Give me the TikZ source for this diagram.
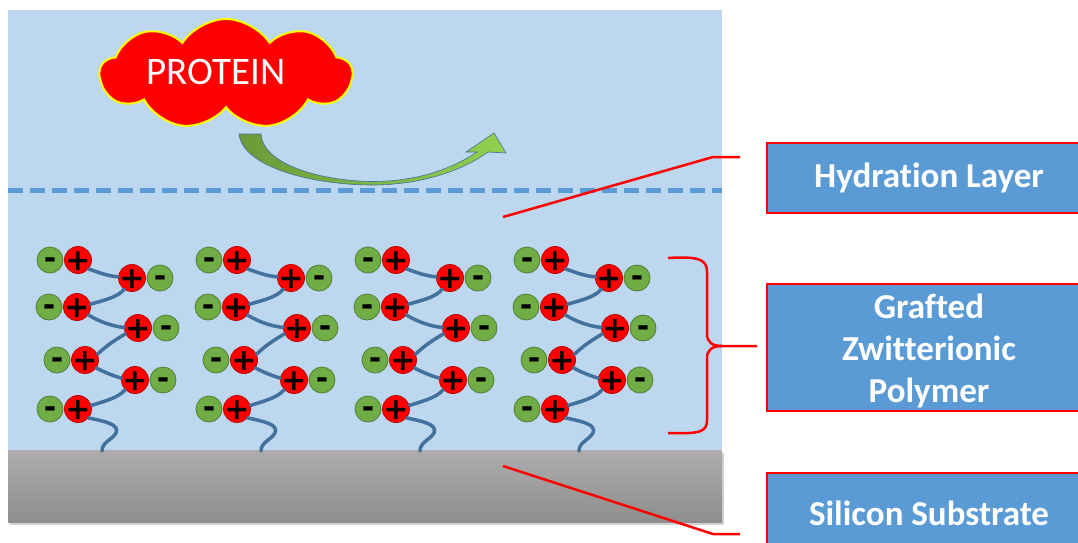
\documentclass[tikz,border=0pt]{standalone}
\usepackage{fontspec}
\setmainfont{Carlito}[Ligatures=NoCommon, Contextuals=NoAlternate]
\newfontfamily\signfont{DejaVu Sans}
\usetikzlibrary{shapes.symbols}

\definecolor{water}{HTML}{BDD7EE}
\definecolor{boxblue}{HTML}{5B9BD5}
\definecolor{chainblue}{HTML}{41719C}
\definecolor{ionred}{HTML}{FF0000}
\definecolor{ionredline}{HTML}{C00000}
\definecolor{iongreen}{HTML}{70AD47}
\definecolor{iongreenline}{HTML}{507E32}
\definecolor{cloudline}{HTML}{FFFF00}
\definecolor{arrowdark}{HTML}{6A9A38}
\definecolor{arrowlight}{HTML}{92D050}
\definecolor{siliconlight}{HTML}{ADADAD}
\definecolor{silicondark}{HTML}{8E8E8E}

\begin{document}
\begin{tikzpicture}[x=1pt, y=-1pt,
  ion/.style={circle, inner sep=0pt, minimum size=27pt, line width=0.8pt,
    font=\signfont\bfseries\fontsize{30}{30}\selectfont},
  cation/.style={ion, fill=ionred, draw=ionredline},
  anion/.style={ion, fill=iongreen, draw=iongreenline, minimum size=26pt},
  chain/.style={draw=chainblue, line width=3.5pt, line cap=round},
  leader/.style={draw=ionred, line width=2.5pt},
  labeltext/.style={text=white, font=\bfseries\fontsize{35}{42}\selectfont,
    align=center, inner sep=0pt},
  labelbox/.style={labeltext, draw=ionred, line width=2.5pt, fill=boxblue,
    minimum width=324pt}]
\newcommand{\plussign}{\raisebox{-0.358em}[0pt][0pt]{+}}
\newcommand{\minussign}{\raisebox{-0.29em}[0pt][0pt]{-}}

\clip (0,0) rectangle (1078,542);
\fill[white] (0,0) rectangle (1078,542);

% water above the surface
\fill[water] (8,10) rectangle (722,452);

% silicon substrate with a soft shadow
\fill[black, opacity=0.18] (10,453) rectangle (724,525);
\shade[top color=siliconlight, bottom color=silicondark] (8,450) rectangle (722,522);

% edge of the hydration layer
\draw[boxblue, line width=5pt, dash pattern=on 15pt off 7pt] (8,190) -- (722,190);

% protein cloud
\node[cloud, cloud puffs=9, cloud puff arc=115, aspect=2.2, draw=cloudline,
  line width=2pt, fill=ionred, minimum width=252pt, minimum height=110pt,
  inner sep=0pt] (protein) at (226,74) {};
\node[text=white, font=\fontsize{39}{39}\selectfont] (proteintext) at (216,72) {PROTEIN};

% curved arrow: the protein is repelled
\path[left color=arrowdark, right color=arrowlight, draw=chainblue, line width=0.6pt]
  (239,134) .. controls (243,168) and (315,185) .. (372,185)
  .. controls (420,185) and (462,171) .. (488,152)
  -- (506,153) -- (494,133) -- (466,152) -- (477,152)
  .. controls (450,170) and (415,181.5) .. (372,181.5)
  .. controls (322,181) and (263,165) .. (261,134) -- cycle;

% grafted zwitterionic brushes
\foreach \dx [count=\g] in {0,159,318,477} {
  \begin{scope}[xshift=\dx pt]
    \node[anion]  (a1-\g) at (50,260)  {\minussign};
    \node[cation] (c1-\g) at (78,260)  {\plussign};
    \node[cation] (c2-\g) at (132,278) {\plussign};
    \node[anion]  (a2-\g) at (160,278) {\minussign};
    \node[anion]  (a3-\g) at (49,307)  {\minussign};
    \node[cation] (c3-\g) at (77,307)  {\plussign};
    \node[cation] (c4-\g) at (138,328) {\plussign};
    \node[anion]  (a4-\g) at (166,328) {\minussign};
    \node[anion]  (a5-\g) at (57,360)  {\minussign};
    \node[cation] (c5-\g) at (85,360)  {\plussign};
    \node[cation] (c6-\g) at (135,380) {\plussign};
    \node[anion]  (a6-\g) at (163,380) {\minussign};
    \node[anion]  (a7-\g) at (50,409)  {\minussign};
    \node[cation] (c7-\g) at (78,409)  {\plussign};
    \coordinate (root-\g) at (102,451);
    \draw[chain] (c1-\g.-40) .. controls (100,273) and (108,276) .. (c2-\g.175);
    \draw[chain] (c2-\g.235) .. controls (118,297) and (105,300) .. (c3-\g.12);
    \draw[chain] (c3-\g.-35) .. controls (100,322) and (112,326) .. (c4-\g.178);
    \draw[chain] (c4-\g.205) .. controls (115,340) and (106,346) .. (c5-\g.25);
    \draw[chain] (c5-\g.-35) .. controls (106,373) and (114,376) .. (c6-\g.172);
    \draw[chain] (c6-\g.225) .. controls (118,398) and (105,401) .. (c7-\g.15);
    \draw[chain] (c7-\g.-40) .. controls (103,421) and (120,424) .. (116,433)
      .. controls (112,440) and (102,442) .. (root-\g);
  \end{scope}
}

% labels
\node[labelbox, minimum height=70pt]  (hydration) at (929,178) {Hydration Layer};
\node[labelbox, minimum height=127pt] (polymer)   at (929,347.5) {};
\node[labeltext] (polymertext) at (929,351) {Grafted\\Zwitterionic\\Polymer};
\node[labelbox, minimum height=80pt]  (silicon)   at (929,513) {Silicon Substrate};

% leader lines
\coordinate (hydpt) at (503,217);
\coordinate (hydbend) at (713,157);
\coordinate (hydend) at (740,157);
\draw[leader] (hydpt) -- (hydbend) -- (hydend);

\coordinate (subpt) at (503,466);
\coordinate (subbend) at (713,534);
\coordinate (subend) at (740,534);
\draw[leader] (subpt) -- (subbend) -- (subend);

% brace spanning the polymer brushes
\coordinate (bracetop) at (668,258);
\coordinate (bracetip) at (757,346);
\coordinate (bracebot) at (668,433);
\draw[leader] (bracetop) .. controls (700,256) and (707,260) .. (707,272)
  -- (707,334) .. controls (707,342) and (712,346) .. (722,346) -- (bracetip);
\draw[leader] (722,346) .. controls (712,346) and (707,350) .. (707,358)
  -- (707,420) .. controls (707,432) and (700,434) .. (bracebot);
\end{tikzpicture}
\end{document}
